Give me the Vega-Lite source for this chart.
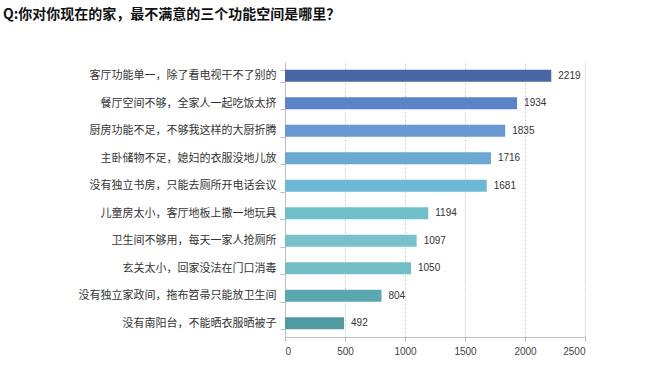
{
  "$schema": "https://vega.github.io/schema/vega-lite/v6.json",
  "width": 300,
  "height": 275,
  "autosize": {"type": "none"},
  "padding": {"left": 285, "top": 62, "right": 68, "bottom": 42},
  "background": "white",
  "title": {
    "text": "Q:你对你现在的家，最不满意的三个功能空间是哪里？",
    "anchor": "start",
    "frame": "group",
    "dx": -282,
    "offset": 34,
    "font": "Noto Sans CJK SC",
    "fontSize": 14,
    "fontWeight": "bold",
    "color": "#111111"
  },
  "data": {
    "values": [
      {"item": "客厅功能单一，除了看电视干不了别的", "count": 2219},
      {"item": "餐厅空间不够，全家人一起吃饭太挤", "count": 1934},
      {"item": "厨房功能不足，不够我这样的大厨折腾", "count": 1835},
      {"item": "主卧储物不足，媳妇的衣服没地儿放", "count": 1716},
      {"item": "没有独立书房，只能去厕所开电话会议", "count": 1681},
      {"item": "儿童房太小，客厅地板上撒一地玩具", "count": 1194},
      {"item": "卫生间不够用，每天一家人抢厕所", "count": 1097},
      {"item": "玄关太小，回家没法在门口消毒", "count": 1050},
      {"item": "没有独立家政间，拖布笤帚只能放卫生间", "count": 804},
      {"item": "没有南阳台，不能晒衣服晒被子", "count": 492}
    ]
  },
  "encoding": {
    "y": {
      "field": "item",
      "type": "nominal",
      "sort": null,
      "scale": {"paddingInner": 0.56, "paddingOuter": 0.28},
      "axis": {
        "title": null,
        "tickBand": "extent",
        "labelFont": "Noto Sans CJK SC",
        "labelFontSize": 11,
        "labelColor": "#333333",
        "labelPadding": 4,
        "tickSize": 5,
        "tickColor": "#bfbfbf",
        "domainColor": "#bfbfbf",
        "labelLimit": 300
      }
    },
    "x": {
      "field": "count",
      "type": "quantitative",
      "scale": {"domain": [0, 2500], "nice": false},
      "axis": {
        "title": null,
        "values": [0, 500, 1000, 1500, 2000, 2500],
        "format": "d",
        "labelFont": "Liberation Sans",
        "labelFontSize": 10,
        "labelColor": "#444444",
        "labelPadding": 5,
        "tickSize": 4,
        "tickColor": "#bfbfbf",
        "domainColor": "#bfbfbf",
        "grid": true,
        "gridDash": [2, 2],
        "gridColor": "#cccccc"
      }
    }
  },
  "layer": [
    {
      "mark": {"type": "bar"},
      "encoding": {
        "color": {
          "field": "item",
          "type": "nominal",
          "legend": null,
          "scale": {
            "domain": [
              "客厅功能单一，除了看电视干不了别的",
              "餐厅空间不够，全家人一起吃饭太挤",
              "厨房功能不足，不够我这样的大厨折腾",
              "主卧储物不足，媳妇的衣服没地儿放",
              "没有独立书房，只能去厕所开电话会议",
              "儿童房太小，客厅地板上撒一地玩具",
              "卫生间不够用，每天一家人抢厕所",
              "玄关太小，回家没法在门口消毒",
              "没有独立家政间，拖布笤帚只能放卫生间",
              "没有南阳台，不能晒衣服晒被子"
            ],
            "range": ["#4a65a5", "#5b84c8", "#6898d2", "#6aa7d3", "#6cb8d6", "#72bfcc", "#78c1cc", "#72bec6", "#5ba7af", "#4f9aa0"]
          }
        }
      }
    },
    {
      "mark": {"type": "text", "align": "left", "dx": 7, "font": "Liberation Sans", "fontSize": 10, "color": "#333333"},
      "encoding": {"text": {"field": "count", "type": "quantitative", "format": "d"}}
    }
  ],
  "config": {"view": {"stroke": null}}
}
